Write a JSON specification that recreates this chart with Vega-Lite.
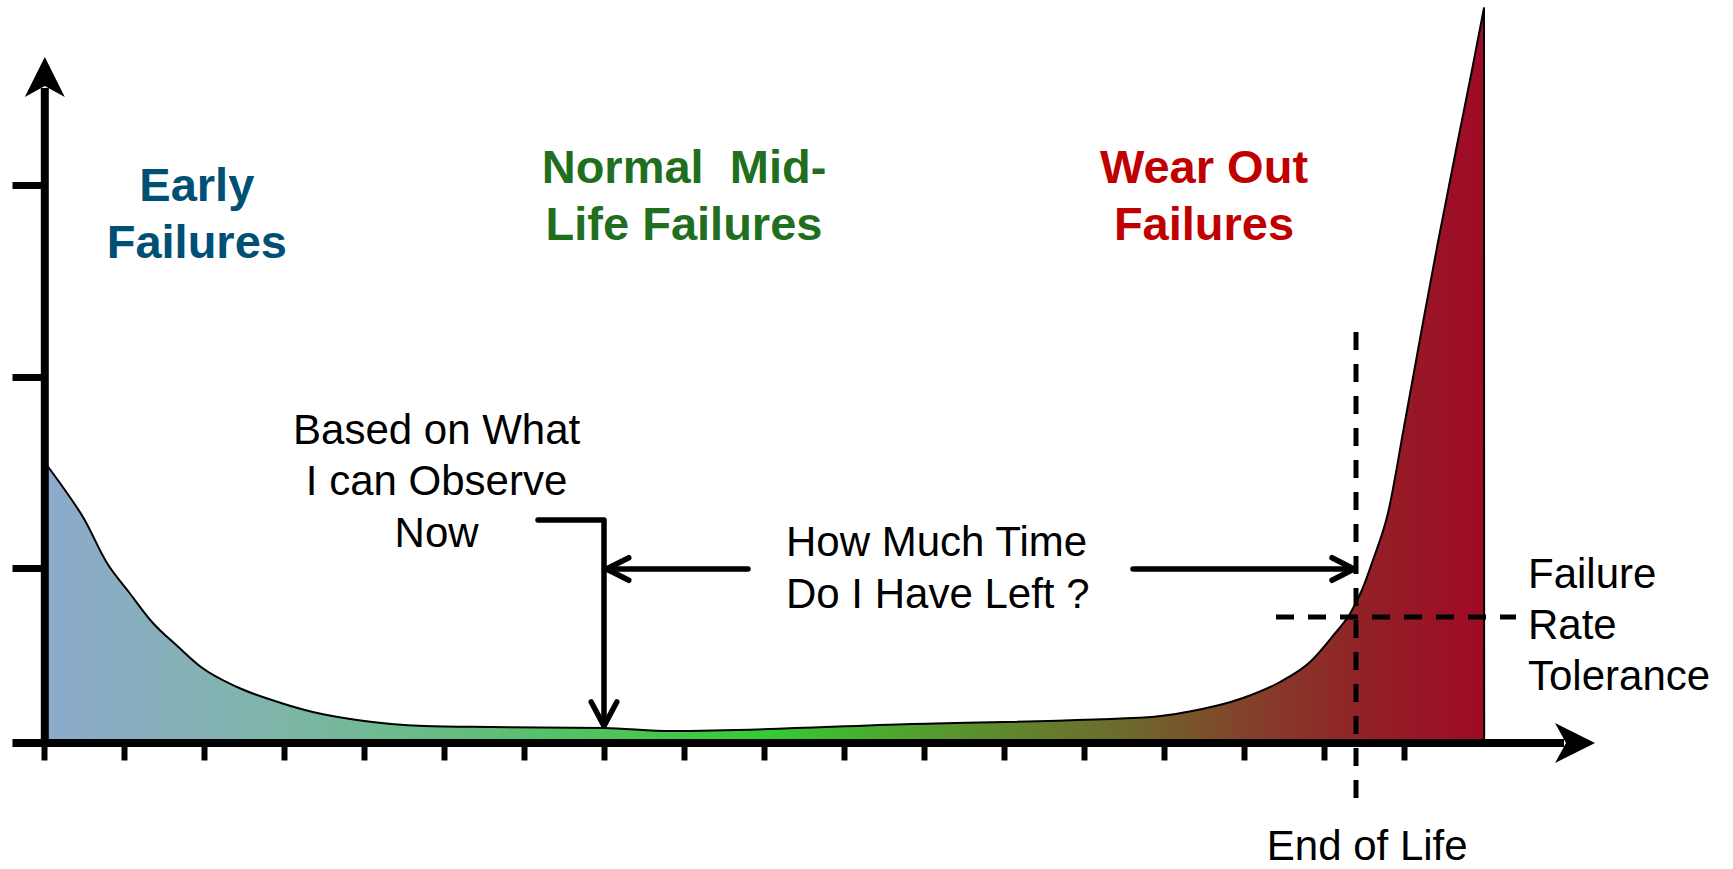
{
  "$schema": "https://vega.github.io/schema/vega-lite/v6.json",
  "width": 1600,
  "height": 743,
  "autosize": {"type": "none"},
  "padding": {"left": 44, "top": 0, "right": 89, "bottom": 126},
  "background": "white",
  "config": {"view": {"stroke": null}, "font": "Liberation Sans"},
  "datasets": {
    "curve": [
      {"x": 0.025, "y": 2.79}, {"x": 0.2875, "y": 2.50}, {"x": 0.4875, "y": 2.26}, {"x": 0.7875, "y": 1.80},
      {"x": 1.07, "y": 1.50}, {"x": 1.35, "y": 1.21}, {"x": 1.68, "y": 0.96}, {"x": 1.9625, "y": 0.76},
      {"x": 2.4125, "y": 0.56}, {"x": 2.9625, "y": 0.40}, {"x": 3.36, "y": 0.31},
      {"x": 3.9125, "y": 0.23}, {"x": 4.75, "y": 0.17}, {"x": 5.5875, "y": 0.16}, {"x": 7.0, "y": 0.15},
      {"x": 7.85, "y": 0.12}, {"x": 10.85, "y": 0.19}, {"x": 13.85, "y": 0.26}, {"x": 14.2875, "y": 0.31}, {"x": 14.9875, "y": 0.45},
      {"x": 15.45, "y": 0.61}, {"x": 15.825, "y": 0.81}, {"x": 16.1, "y": 1.06}, {"x": 16.3375, "y": 1.31},
      {"x": 16.475, "y": 1.53}, {"x": 16.6125, "y": 1.83}, {"x": 16.8, "y": 2.30}, {"x": 17.0, "y": 3.16},
      {"x": 17.25, "y": 4.26}, {"x": 17.425, "y": 5.01}, {"x": 17.675, "y": 6.03}, {"x": 17.85, "y": 6.73},
      {"x": 17.99, "y": 7.31}, {"x": 18.0, "y": 7.35}, {"x": 18.002, "y": 0}
    ],
    "axislines": [
      {"x": 0.01, "y": -0.04, "x2": 0.01, "y2": 6.55},
      {"x": -0.394, "y": 0, "x2": 19.0, "y2": 0}
    ],
    "uphead": [{"x": 0.01, "y": 6.66}],
    "righthead": [{"x": 19.1375, "y": 0}],
    "dashed": [
      {"x": 16.4, "y": 4.11, "x2": 16.4, "y2": -0.69},
      {"x": 15.4, "y": 1.26, "x2": 18.4, "y2": 1.26}
    ],
    "arrows": [
      {"id": "now", "o": 0, "x": 6.175, "y": 2.23}, {"id": "now", "o": 1, "x": 7.0, "y": 2.23}, {"id": "now", "o": 2, "x": 7.0, "y": 0.17},
      {"id": "nowhead", "o": 0, "x": 6.84, "y": 0.41}, {"id": "nowhead", "o": 1, "x": 7.0, "y": 0.17}, {"id": "nowhead", "o": 2, "x": 7.16, "y": 0.41},
      {"id": "left", "o": 0, "x": 8.8, "y": 1.74}, {"id": "left", "o": 1, "x": 7.03, "y": 1.74},
      {"id": "lefthead", "o": 0, "x": 7.31, "y": 1.853}, {"id": "lefthead", "o": 1, "x": 7.03, "y": 1.74}, {"id": "lefthead", "o": 2, "x": 7.31, "y": 1.627},
      {"id": "right", "o": 0, "x": 13.6125, "y": 1.74}, {"id": "right", "o": 1, "x": 16.375, "y": 1.74},
      {"id": "righthead", "o": 0, "x": 16.1, "y": 1.853}, {"id": "righthead", "o": 1, "x": 16.375, "y": 1.74}, {"id": "righthead", "o": 2, "x": 16.1, "y": 1.627}
    ],
    "bold": [
      {"text": "Early", "g": "early", "x": 1.91, "y": 5.42},
      {"text": "Failures", "g": "early", "x": 1.91, "y": 4.85},
      {"text": "Normal\u00a0\u00a0Mid-", "g": "mid", "x": 8.0, "y": 5.6},
      {"text": "Life Failures", "g": "mid", "x": 8.0, "y": 5.03},
      {"text": "Wear Out", "g": "wear", "x": 14.5, "y": 5.6},
      {"text": "Failures", "g": "wear", "x": 14.5, "y": 5.03}
    ],
    "centered": [
      {"text": "Based on What", "x": 4.9075, "y": 2.99},
      {"text": "I can Observe", "x": 4.9075, "y": 2.48},
      {"text": "Now", "x": 4.9075, "y": 1.963},
      {"text": "End of Life", "x": 16.54, "y": -1.17}
    ],
    "lefttext": [
      {"text": "How Much Time", "x": 9.275, "y": 1.87},
      {"text": "Do I Have Left ?", "x": 9.275, "y": 1.353},
      {"text": "Failure", "x": 18.55, "y": 1.55},
      {"text": "Rate", "x": 18.55, "y": 1.04},
      {"text": "Tolerance", "x": 18.55, "y": 0.53}
    ]
  },
  "encoding": {
    "x": {
      "field": "x", "type": "quantitative",
      "scale": {"domain": [0, 20], "nice": false, "zero": false},
      "axis": {"values": [0,1,2,3,4,5,6,7,8,9,10,11,12,13,14,15,16,17], "domain": false, "labels": false, "grid": false, "title": null, "tickSize": 17, "tickWidth": 6, "tickColor": "black"}
    },
    "y": {
      "field": "y", "type": "quantitative",
      "scale": {"domain": [0, 7.43], "nice": false, "zero": false},
      "axis": {"values": [1.747, 3.663, 5.58], "domain": false, "labels": false, "grid": false, "title": null, "tickSize": 32, "tickWidth": 7, "tickColor": "black"}
    }
  },
  "layer": [
    {
      "data": {"name": "curve"},
      "mark": {
        "type": "area", "interpolate": "monotone", "stroke": "black", "strokeWidth": 2, "strokeJoin": "round", "fillOpacity": 1,
        "fill": {"gradient": "linear", "x1": 0, "y1": 0, "x2": 1, "y2": 0, "stops": [
          {"offset": 0, "color": "#8DAACC"},
          {"offset": 0.16, "color": "#7FB5A9"},
          {"offset": 0.38, "color": "#4FC35F"},
          {"offset": 0.5, "color": "#33CC33"},
          {"offset": 0.62, "color": "#56992F"},
          {"offset": 0.75, "color": "#6D6A2C"},
          {"offset": 0.85, "color": "#873A2A"},
          {"offset": 0.92, "color": "#922026"},
          {"offset": 1, "color": "#A00A25"}
        ]}
      }
    },
    {
      "data": {"name": "dashed"},
      "mark": {"type": "rule", "color": "black", "strokeWidth": 5, "strokeDash": [18, 14]},
      "encoding": {"x2": {"field": "x2"}, "y2": {"field": "y2"}}
    },
    {
      "data": {"name": "axislines"},
      "mark": {"type": "rule", "color": "black", "strokeWidth": 8, "strokeCap": "butt"},
      "encoding": {"x2": {"field": "x2"}, "y2": {"field": "y2"}}
    },
    {
      "data": {"name": "uphead"},
      "mark": {"type": "point", "shape": "M0,-1L1,1L0,0.45L-1,1Z", "size": 1600, "filled": true, "color": "black", "opacity": 1, "strokeWidth": 0}
    },
    {
      "data": {"name": "righthead"},
      "mark": {"type": "point", "shape": "M0,-1L1,1L0,0.45L-1,1Z", "size": 1600, "angle": 90, "filled": true, "color": "black", "opacity": 1, "strokeWidth": 0}
    },
    {
      "data": {"name": "arrows"},
      "mark": {"type": "line", "color": "black", "strokeWidth": 5.5, "strokeCap": "round", "strokeJoin": "round"},
      "encoding": {"detail": {"field": "id"}, "order": {"field": "o", "type": "quantitative"}}
    },
    {
      "data": {"name": "bold"},
      "mark": {"type": "text", "fontSize": 47, "fontWeight": "bold", "align": "center", "baseline": "alphabetic"},
      "encoding": {
        "text": {"field": "text"},
        "color": {"field": "g", "type": "nominal", "scale": {"domain": ["early", "mid", "wear"], "range": ["#004F75", "#1F6F1F", "#C00000"]}, "legend": null}
      }
    },
    {
      "data": {"name": "centered"},
      "mark": {"type": "text", "fontSize": 42, "align": "center", "baseline": "alphabetic", "color": "black"},
      "encoding": {"text": {"field": "text"}}
    },
    {
      "data": {"name": "lefttext"},
      "mark": {"type": "text", "fontSize": 42, "align": "left", "baseline": "alphabetic", "color": "black"},
      "encoding": {"text": {"field": "text"}}
    }
  ]
}
